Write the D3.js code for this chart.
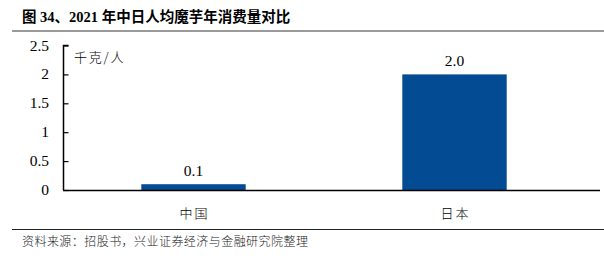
<!DOCTYPE html>
<html>
<head>
<meta charset="utf-8">
<title>2021年中日人均魔芋年消费量对比</title>
<script src="https://d3js.org/d3.v7.min.js"></script>
<style>
    body { margin: 0; background: #fff; }
    svg { display: block; }
    .num { font-family: "Liberation Serif", "Times New Roman", serif; }
    .cjk { font-family: "Liberation Serif", "Noto Sans CJK SC", serif; }
</style>
</head>
<body>
<div id="chart"></div>
<script>
var countries = ["中国", "日本"];
var consumption = [0.1, 2.0];
var yTicks = [0, 0.5, 1, 1.5, 2, 2.5];

var W = 604, H = 261;
var svg = d3.select("#chart").append("svg")
    .attr("width", W)
    .attr("height", H);

// title + rules
svg.append("text")
    .attr("class", "cjk")
    .attr("x", 22).attr("y", 22)
    .style("font-size", "14.5px")
    .style("font-weight", "bold")
    .text("图 34、2021 年中日人均魔芋年消费量对比");

svg.append("line")
    .attr("x1", 12).attr("x2", W)
    .attr("y1", 31).attr("y2", 31)
    .attr("stroke", "#9a9a9a").attr("stroke-width", 2);

svg.append("line")
    .attr("x1", 12).attr("x2", W)
    .attr("y1", 229.5).attr("y2", 229.5)
    .attr("stroke", "#222").attr("stroke-width", 1);

svg.append("text")
    .attr("x", 22).attr("y", 246)
    .style("font-family", "'Noto Sans CJK SC', sans-serif")
    .style("font-size", "12px")
    .style("font-weight", "300")
    .style("letter-spacing", "0.45px")
    .attr("fill", "#222")
    .text("资料来源：招股书，兴业证券经济与金融研究院整理");

// scales
var x = d3.scaleBand()
    .domain(countries)
    .range([63, 585])
    .paddingInner(0.6)
    .paddingOuter(0.3);

var y = d3.scaleLinear()
    .domain([0, 2.5])
    .range([190, 45.5]);

// bars
svg.selectAll("rect.bar")
    .data(countries)
    .enter().append("rect")
    .attr("class", "bar")
    .attr("x", function(d) { return x(d); })
    .attr("width", x.bandwidth())
    .attr("y", function(d, i) { return y(consumption[i]); })
    .attr("height", function(d, i) { return y(0) - y(consumption[i]); })
    .attr("fill", "#034b92");

svg.selectAll("text.val")
    .data(countries)
    .enter().append("text")
    .attr("class", "val num")
    .attr("x", function(d) { return x(d) + x.bandwidth() / 2; })
    .attr("y", function(d, i) { return y(consumption[i]) - 8; })
    .attr("text-anchor", "middle")
    .style("font-size", "15.5px")
    .text(function(d, i) { return consumption[i].toFixed(1); });

// y axis, ticks pointing inward
var yAxis = d3.axisRight(y)
    .tickValues(yTicks)
    .tickSize(5)
    .tickFormat("");
var gy = svg.append("g")
    .attr("transform", "translate(63.5,0)")
    .call(yAxis);
gy.select(".domain").attr("d", "M5," + y(2.5) + "H0V" + y(0)).attr("stroke", "#000").attr("stroke-width", 1.5);
gy.selectAll(".tick line").attr("stroke", "#000").attr("stroke-width", 1.2);

svg.selectAll("text.ytick")
    .data(yTicks)
    .enter().append("text")
    .attr("class", "ytick num")
    .attr("x", 49)
    .attr("y", function(d) { return y(d) + 5; })
    .attr("text-anchor", "end")
    .style("font-size", "15.5px")
    .text(function(d) { return d; });

// x axis baseline
svg.append("line")
    .attr("x1", 63).attr("x2", 600)
    .attr("y1", y(0) + 0.5).attr("y2", y(0) + 0.5)
    .attr("stroke", "#000").attr("stroke-width", 1.5);

svg.selectAll("text.cat")
    .data(countries)
    .enter().append("text")
    .attr("class", "cat")
    .attr("x", function(d) { return x(d) + x.bandwidth() / 2 + 1; })
    .attr("y", 218)
    .attr("text-anchor", "middle")
    .style("font-family", "'Noto Sans CJK SC', sans-serif")
    .style("font-size", "13px")
    .style("font-weight", "300")
    .style("letter-spacing", "2px")
    .text(function(d) { return d; });

// unit
svg.append("text")
    .attr("x", 74).attr("y", 62)
    .style("font-family", "'Noto Sans CJK SC', sans-serif")
    .style("font-size", "13px")
    .style("font-weight", "300")
    .style("letter-spacing", "1.8px")
    .text("千克/人");
</script>
</body>
</html>
